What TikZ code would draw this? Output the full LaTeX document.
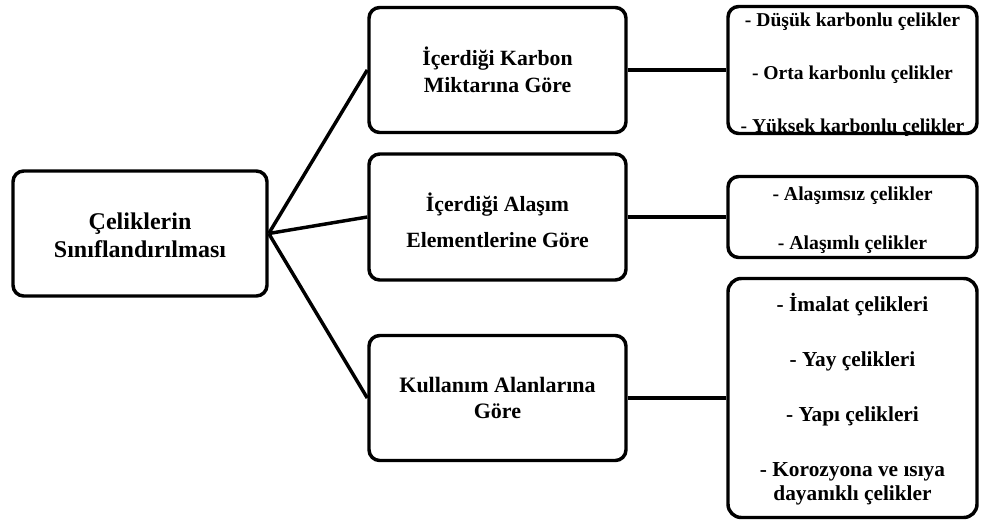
\documentclass[tikz,border=0pt]{standalone}
\usepackage{fontspec}
\setmainfont{Liberation Serif}
\begin{document}
\begin{tikzpicture}[x=0.75pt,y=-0.75pt,
  box/.style={draw=black, line width=2.6pt, rounded corners=8pt, inner sep=0pt},
  tx/.style={align=center, inner sep=0pt, text=black},
  link/.style={line width=2.6pt}]
\useasboundingbox (0,0) rectangle (982,525);
% boxes
\node[box, minimum width=190.5pt, minimum height=93.75pt] (root) at (140,233.5) {};
\node[box, minimum width=192.75pt, minimum height=93.75pt] (b1) at (497.5,70) {};
\node[box, minimum width=192.75pt, minimum height=94.5pt] (b2) at (497.5,217) {};
\node[box, minimum width=192.75pt, minimum height=93.75pt] (b3) at (497.5,398) {};
\node[box, minimum width=186.75pt, minimum height=95.25pt] (r1) at (852.5,70) {};
\node[box, minimum width=186.75pt, minimum height=60.75pt] (r2) at (852.5,217) {};
\node[box, minimum width=186.75pt, minimum height=179.25pt, rounded corners=10pt] (r3) at (852.5,398) {};
% texts
\node[tx, font=\bfseries\fontsize{18}{21}\selectfont, yshift=-1.5pt] (roott) at (root.center)
  {Çeliklerin\\Sınıflandırılması};
\node[tx, font=\bfseries\fontsize{16.3}{20}\selectfont] (b1t) at (b1.center)
  {İçerdiği Karbon\\Miktarına Göre};
\node[tx, font=\bfseries\fontsize{16.3}{27}\selectfont, yshift=-2.25pt] (b2t) at (b2.center)
  {İçerdiği Alaşım\\Elementlerine Göre};
\node[tx, font=\bfseries\fontsize{16.5}{19}\selectfont] (b3t) at (b3.center)
  {Kullanım Alanlarına\\Göre};
\node[tx, font=\bfseries\fontsize{14.7}{39.75}\selectfont, yshift=-3.4pt] (r1t) at (r1.center)
  {- Düşük karbonlu çelikler\\- Orta karbonlu çelikler\\- Yüksek karbonlu çelikler};
\node[tx, font=\bfseries\fontsize{14.8}{37}\selectfont, yshift=-2.25pt] (r2t) at (r2.center)
  {- Alaşımsız çelikler\\- Alaşımlı çelikler};
\node[tx, font=\bfseries\fontsize{16}{17.75}\selectfont, yshift=-1pt] (r3t) at (r3.center)
  {- İmalat çelikleri\\[23.5pt]- Yay çelikleri\\[23.5pt]- Yapı çelikleri\\[23.5pt]- Korozyona ve ısıya\\dayanıklı çelikler};
% connectors
\draw[link] (root.east) -- (b1.west);
\draw[link] (root.east) -- (b2.west);
\draw[link] (root.east) -- (b3.west);
\draw[link] (b1.east) -- (r1.west);
\draw[link] (b2.east) -- (r2.west);
\draw[link] (b3.east) -- (r3.west);
\end{tikzpicture}
\end{document}
